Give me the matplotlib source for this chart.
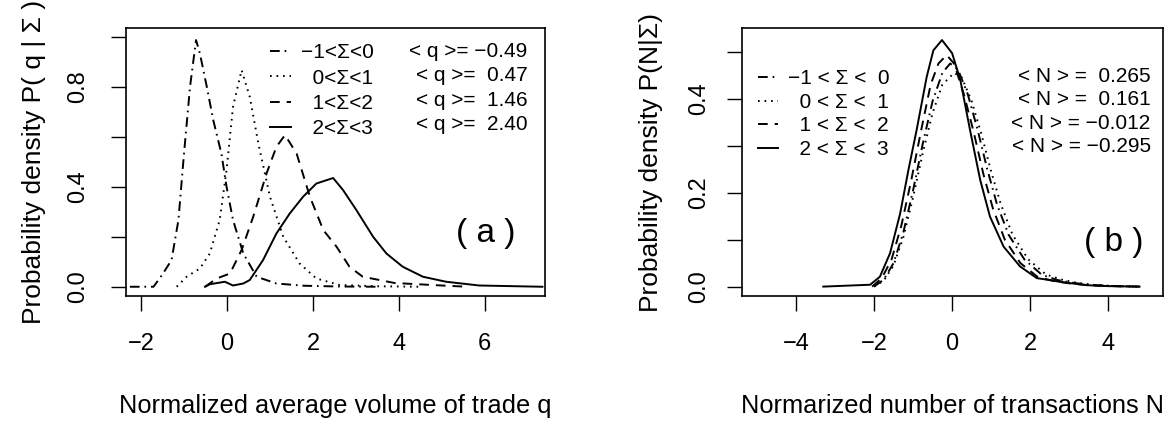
import matplotlib
matplotlib.use("Agg")
import matplotlib.pyplot as plt

plt.rcParams['font.family'] = ['Liberation Sans', 'DejaVu Sans']
plt.rcParams['lines.scale_dashes'] = False

# ---- panel (a): P(q | Sigma) ----
qa_dashdot_x = [-2.26, -1.71, -1.5, -1.29, -1.13, -1.0, -0.86, -0.72, -0.63, -0.47, -0.32, -0.13,
                -0.01, 0.14, 0.38, 0.69, 1.15, 1.8, 2.6, 3.5]
qa_dashdot_y = [0.0, 0.0, 0.05, 0.107, 0.267, 0.533, 0.8, 0.987, 0.933, 0.8, 0.667, 0.533,
                0.4, 0.267, 0.133, 0.04, 0.013, 0.004, 0.001, 0.0]

qa_dotted_x = [-1.17, -0.94, -0.63, -0.40, -0.17, -0.01, 0.14, 0.34, 0.53, 0.73, 1.0, 1.31,
               1.69, 2.08, 2.62, 3.5, 4.5]
qa_dotted_y = [0.0, 0.04, 0.073, 0.133, 0.267, 0.467, 0.72, 0.867, 0.76, 0.573, 0.36, 0.2,
               0.093, 0.033, 0.007, 0.002, 0.0]

qa_dashed_x = [-0.51, -0.24, 0.07, 0.34, 0.61, 0.92, 1.15, 1.35, 1.62, 1.93, 2.24, 2.55,
               2.85, 3.16, 3.9, 5.0, 5.6]
qa_dashed_y = [0.0, 0.033, 0.053, 0.147, 0.28, 0.453, 0.56, 0.607, 0.533, 0.36, 0.227, 0.16,
               0.08, 0.04, 0.015, 0.005, 0.0]

qa_solid_x = [-0.51, -0.4, -0.05, 0.14, 0.38, 0.53, 0.84, 1.15, 1.46, 1.77, 2.08, 2.47,
              2.70, 3.01, 3.40, 3.71, 4.09, 4.56, 5.10, 5.87, 7.34]
qa_solid_y = [0.0, 0.01, 0.02, 0.005, 0.013, 0.027, 0.107, 0.213, 0.293, 0.36, 0.413, 0.435,
              0.387, 0.307, 0.2, 0.133, 0.08, 0.04, 0.02, 0.005, 0.0]

qa_labels = ["\u22121<\u03a3<0", "0<\u03a3<1", "1<\u03a3<2", "2<\u03a3<3"]
qa_means = ["< q >= \u22120.49", "< q >=  0.47", "< q >=  1.46", "< q >=  2.40"]

# ---- panel (b): P(N | Sigma) ----
nb_dashdot_x = [-2.0, -1.75, -1.5, -1.25, -1.0, -0.75, -0.5, -0.25, -0.05, 0.15, 0.4, 0.65,
                0.9, 1.15, 1.45, 1.85, 2.3, 2.7, 3.1, 3.6, 4.2, 4.8]
nb_dashdot_y = [0.0, 0.015, 0.05, 0.115, 0.205, 0.305, 0.395, 0.455, 0.475, 0.462, 0.41, 0.335,
                0.25, 0.175, 0.11, 0.058, 0.025, 0.014, 0.008, 0.003, 0.001, 0.0]

nb_dotted_x = [-2.0, -1.75, -1.5, -1.25, -1.0, -0.75, -0.5, -0.25, 0.05, 0.25, 0.5, 0.75,
               1.0, 1.25, 1.55, 1.95, 2.4, 2.8, 3.2, 3.7, 4.2, 4.8]
nb_dotted_y = [0.0, 0.013, 0.045, 0.105, 0.19, 0.285, 0.37, 0.43, 0.455, 0.445, 0.395, 0.325,
               0.245, 0.175, 0.11, 0.058, 0.026, 0.015, 0.008, 0.003, 0.001, 0.0]

nb_dashed_x = [-2.05, -1.8, -1.55, -1.3, -1.05, -0.8, -0.55, -0.35, -0.14, 0.05, 0.3, 0.55,
               0.8, 1.05, 1.35, 1.75, 2.2, 2.6, 3.0, 3.5, 4.2, 4.8]
nb_dashed_y = [0.0, 0.018, 0.058, 0.13, 0.225, 0.33, 0.43, 0.475, 0.493, 0.475, 0.41, 0.33,
               0.24, 0.165, 0.1, 0.05, 0.02, 0.012, 0.007, 0.003, 0.001, 0.0]

nb_solid_x = [-3.3, -2.1, -1.85, -1.59, -1.33, -1.12, -0.91, -0.65, -0.48, -0.26, 0.0, 0.21,
              0.46, 0.72, 0.97, 1.32, 1.74, 2.17, 2.5, 2.77, 3.45, 4.0, 4.8]
nb_solid_y = [0.0, 0.004, 0.021, 0.071, 0.156, 0.248, 0.333, 0.447, 0.503, 0.525, 0.497, 0.44,
              0.333, 0.227, 0.149, 0.085, 0.043, 0.018, 0.014, 0.01, 0.003, 0.001, 0.0]

nb_labels = ["\u22121 < \u03a3 <  0", "0 < \u03a3 <  1", "1 < \u03a3 <  2", "2 < \u03a3 <  3"]
nb_means = ["< N > =  0.265", "< N > =  0.161", "< N > = \u22120.012", "< N > = \u22120.295"]

styles = [(0, (7, 3.5, 1.2, 3.5)), (0, (1.2, 3.5)), (0, (7, 5)), "-"]
lw = 1.4
tick_fs = 17
leg_fs = 15
xlab_fs = 18.3
ylab_fs = 19


def setup_axis(ax, xlim, ylim, xticks, yticks, yticklabels, ypad):
    ax.set_xlim(*xlim)
    ax.set_ylim(*ylim)
    ax.set_xticks(xticks)
    ax.set_yticks(yticks)
    ax.set_yticklabels(yticklabels, rotation=90, va="center")
    ax.tick_params(direction="out", length=10.5, width=1, labelsize=tick_fs, colors="black")
    ax.tick_params(axis="x", pad=16)
    ax.tick_params(axis="y", pad=ypad)
    for sp in ax.spines.values():
        sp.set_linewidth(1.2)


fig = plt.figure(figsize=(11.69, 4.21), dpi=100)

ax1 = fig.add_axes([126 / 1169, 125 / 421, 419 / 1169, 267.7 / 421])
series_a = [(qa_dashdot_x, qa_dashdot_y), (qa_dotted_x, qa_dotted_y),
            (qa_dashed_x, qa_dashed_y), (qa_solid_x, qa_solid_y)]
lines_a = []
for (x, y), ls in zip(series_a, styles):
    l, = ax1.plot(x, y, color="black", linestyle=ls, linewidth=lw)
    lines_a.append(l)
setup_axis(ax1, (-2.35, 7.40), (-0.037, 1.034), [-2, 0, 2, 4, 6],
           [0, 0.2, 0.4, 0.6, 0.8, 1.0], ["0.0", "", "0.4", "", "0.8", ""], 16)
ax1.set_xlabel("Normalized average volume of trade q", fontsize=xlab_fs, labelpad=28)
ax1.set_ylabel("Probability density P( q | \u03a3 )", fontsize=ylab_fs, labelpad=15)
leg1 = ax1.legend(lines_a, ["  " + s if not s.startswith("\u2212") else s for s in qa_labels],
                  loc="upper left", bbox_to_anchor=(0.323, 0.975), frameon=False,
                  fontsize=leg_fs, handlelength=1.0, handletextpad=0.5, labelspacing=0.3,
                  borderaxespad=0)
for i, t in enumerate(qa_means):
    ax1.text(0.958, 0.915 - i * 0.092, t, transform=ax1.transAxes, ha="right",
             va="center", fontsize=leg_fs)
ax1.text(6.01, 0.215, "( a )", fontsize=24, ha="center", va="center")

ax2 = fig.add_axes([741.7 / 1169, 125 / 421, 421.6 / 1169, 267.7 / 421])
series_b = [(nb_dashdot_x, nb_dashdot_y), (nb_dotted_x, nb_dotted_y),
            (nb_dashed_x, nb_dashed_y), (nb_solid_x, nb_solid_y)]
lines_b = []
for (x, y), ls in zip(series_b, styles):
    l, = ax2.plot(x, y, color="black", linestyle=ls, linewidth=lw)
    lines_b.append(l)
setup_axis(ax2, (-5.39, 5.41), (-0.02, 0.55), [-4, -2, 0, 2, 4],
           [0, 0.1, 0.2, 0.3, 0.4, 0.5], ["0.0", "", "0.2", "", "0.4", ""], 12)
ax2.set_xlabel("Normarized number of transactions N", fontsize=xlab_fs, labelpad=28)
ax2.set_ylabel("Probability density P(N|\u03a3)", fontsize=ylab_fs, labelpad=18)
leg2 = ax2.legend(lines_b, [s if s.startswith("\u2212") else "  " + s for s in nb_labels],
                  loc="upper left", bbox_to_anchor=(0.018, 0.878), frameon=False,
                  fontsize=leg_fs, handlelength=1.0, handletextpad=0.45, labelspacing=0.22,
                  borderaxespad=0)
for i, t in enumerate(nb_means):
    ax2.text(0.97, 0.82 - i * 0.087, t, transform=ax2.transAxes, ha="right",
             va="center", fontsize=leg_fs)
ax2.text(4.13, 0.093, "( b )", fontsize=24, ha="center", va="center")

fig.savefig("out.png", dpi=100)
